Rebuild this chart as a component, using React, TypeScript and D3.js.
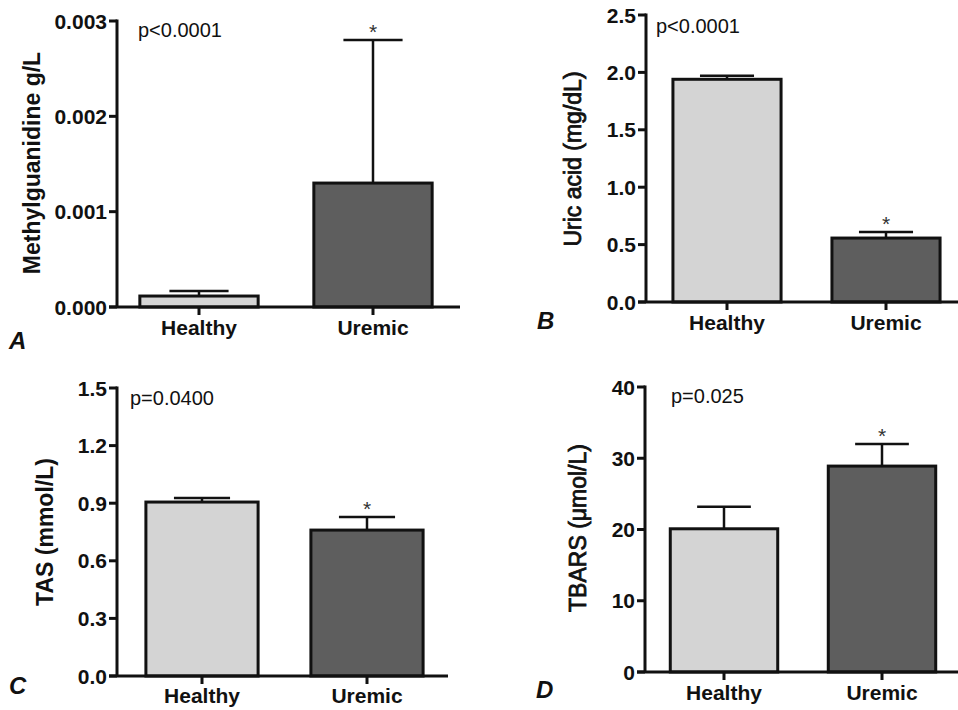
import * as d3 from 'd3';

const groups = ['Healthy', 'Uremic'];
const fills = ['#d4d4d4', '#5e5e5e'];

// A: methylguanidine
const mgMean = [0.000115, 0.0013];
const mgSem = [0.000053, 0.0015];
const mgTicks = [0, 0.001, 0.002, 0.003];

// B: uric acid
const uaMean = [1.94, 0.557];
const uaSem = [0.03, 0.053];
const uaTicks = [0, 0.5, 1.0, 1.5, 2.0, 2.5];

// C: TAS
const tasMean = [0.906, 0.76];
const tasSem = [0.021, 0.068];
const tasTicks = [0, 0.3, 0.6, 0.9, 1.2, 1.5];

// D: TBARS
const tbMean = [20.1, 28.9];
const tbSem = [3.1, 3.1];
const tbTicks = [0, 10, 20, 30, 40];

const pLabels = ['p<0.0001', 'p<0.0001', 'p=0.0400', 'p=0.025'];
const yTitles = ['Methylguanidine g/L', 'Uric acid (mg/dL)', 'TAS (mmol/L)', 'TBARS (\u03bcmol/L)'];
const panelLetters = ['A', 'B', 'C', 'D'];

const FONT = '"Liberation Sans", Arial, sans-serif';

type PanelLayout = {
  axisX: number; top: number; bottom: number; axisEnd: number;
  c0: number; c1: number; pX: number; pY: number;
  titleX: number; titleY: number; titleBold: boolean;
  letterX: number; letterY: number; labelY: number; fmt: string;
};

const layouts: PanelLayout[] = [
  { axisX: 117, top: 21, bottom: 307, axisEnd: 460, c0: 199, c1: 373, pX: 138, pY: 37,
    titleX: 32, titleY: 163, titleBold: true, letterX: 9, letterY: 349, labelY: 335, fmt: '.3f' },
  { axisX: 646, top: 15, bottom: 302, axisEnd: 958, c0: 727, c1: 886, pX: 656, pY: 33,
    titleX: 573, titleY: 159, titleBold: false, letterX: 537, letterY: 329, labelY: 330, fmt: '.1f' },
  { axisX: 117, top: 388, bottom: 676, axisEnd: 448, c0: 202, c1: 367, pX: 130, pY: 405,
    titleX: 45, titleY: 532, titleBold: true, letterX: 9, letterY: 694, labelY: 703, fmt: '.1f' },
  { axisX: 645, top: 387, bottom: 672, axisEnd: 958, c0: 724, c1: 882, pX: 671, pY: 403,
    titleX: 578, titleY: 528, titleBold: false, letterX: 536, letterY: 698, labelY: 700, fmt: 'd' },
];

const means = [mgMean, uaMean, tasMean, tbMean];
const sems = [mgSem, uaSem, tasSem, tbSem];
const ticks = [mgTicks, uaTicks, tasTicks, tbTicks];

function Panel({ i }: { i: number }) {
  const L = layouts[i];
  const tv = ticks[i];
  const y = d3.scaleLinear().domain([tv[0], tv[tv.length - 1]]).range([L.bottom, L.top]);
  const step = L.c1 - L.c0;
  const x = d3.scaleBand<string>()
    .domain(groups)
    .range([L.c0 - step / 2, L.c1 + step / 2])
    .paddingInner(0.32)
    .paddingOuter(0.16);
  const fmt = d3.format(L.fmt);
  const capHalf = x.bandwidth() * 0.25;

  return (
    <g>
      {/* bars */}
      {groups.map((g, k) => {
        const x0 = x(g)!;
        const yTop = y(means[i][k]);
        const yErr = y(means[i][k] + sems[i][k]);
        const cx = x0 + x.bandwidth() / 2;
        return (
          <g key={g}>
            <line x1={cx} x2={cx} y1={yTop} y2={yErr} stroke="#111" strokeWidth={2.5} />
            <line x1={cx - capHalf} x2={cx + capHalf} y1={yErr} y2={yErr} stroke="#111" strokeWidth={2.5} />
            <rect x={x0} y={yTop} width={x.bandwidth()} height={L.bottom - yTop}
              fill={fills[k]} stroke="#111" strokeWidth={3} />
            {k === 1 && (
              <text x={cx} y={yErr - 1} textAnchor="middle" fontFamily={FONT} fontSize={21} fill="#333">*</text>
            )}
          </g>
        );
      })}

      {/* y axis */}
      <line x1={L.axisX} x2={L.axisX} y1={L.top - 1.5} y2={L.bottom} stroke="#111" strokeWidth={3} />
      {tv.map((t) => (
        <g key={t}>
          <line x1={L.axisX - 8} x2={L.axisX} y1={y(t)} y2={y(t)} stroke="#111" strokeWidth={3} />
          <text x={L.axisX - 10} y={y(t)} dy="0.36em" textAnchor="end" fontFamily={FONT}
            fontWeight="bold" fontSize={21} fill="#111">{fmt(t)}</text>
        </g>
      ))}

      {/* x axis */}
      <line x1={L.axisX - 8} x2={L.axisEnd} y1={L.bottom} y2={L.bottom} stroke="#111" strokeWidth={3} />
      {groups.map((g) => {
        const cx = x(g)! + x.bandwidth() / 2;
        return (
          <g key={g}>
            <line x1={cx} x2={cx} y1={L.bottom} y2={L.bottom + 8} stroke="#111" strokeWidth={3} />
            <text x={cx} y={L.labelY} textAnchor="middle" fontFamily={FONT} fontWeight="bold"
              fontSize={21} fill="#111">{g}</text>
          </g>
        );
      })}

      {/* annotations */}
      <text x={L.pX} y={L.pY} fontFamily={FONT} fontSize={20} fill="#111">{pLabels[i]}</text>
      <text transform={`translate(${L.titleX},${L.titleY}) rotate(-90)`} textAnchor="middle" dy="0.36em"
        fontFamily={FONT} fontWeight={L.titleBold ? 'bold' : 'normal'} fontSize={23} fill="#111"
        stroke={L.titleBold ? 'none' : '#111'} strokeWidth={L.titleBold ? 0 : 0.8}>
        {yTitles[i]}
      </text>
      <text x={L.letterX} y={L.letterY} fontFamily={FONT} fontWeight="bold" fontStyle="italic"
        fontSize={24} fill="#111">{panelLetters[i]}</text>
    </g>
  );
}

export default function App() {
  return (
    <svg width={958} height={710} style={{ position: 'absolute', left: 0, top: 0, background: '#fff' }}>
      <rect width={958} height={710} fill="#fff" />
      {layouts.map((_, i) => <Panel key={i} i={i} />)}
    </svg>
  );
}
